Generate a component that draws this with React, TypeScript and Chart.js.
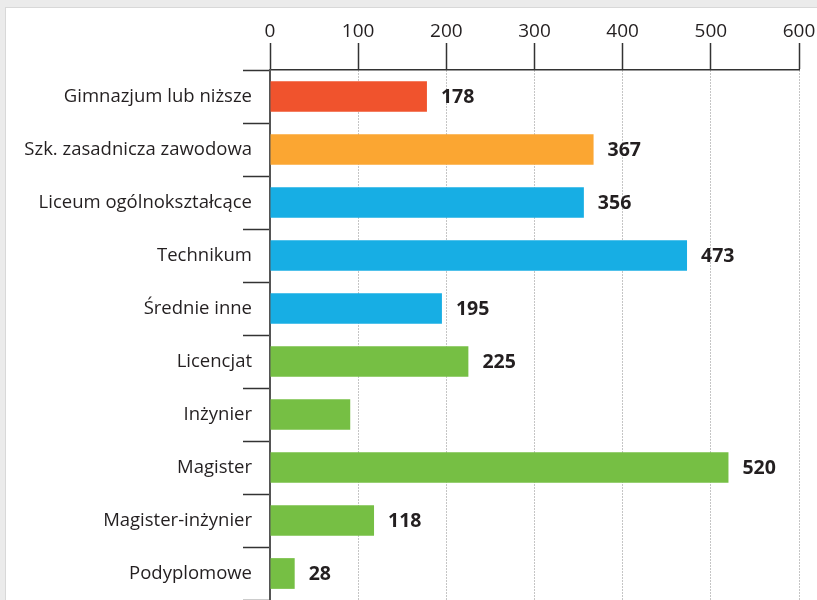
import { useEffect, useRef } from 'react';
import { Chart, registerables } from 'chart.js';

Chart.register(...registerables);

const categories = [
  'Gimnazjum lub niższe',
  'Szk. zasadnicza zawodowa',
  'Liceum ogólnokształcące',
  'Technikum',
  'Średnie inne',
  'Licencjat',
  'Inżynier',
  'Magister',
  'Magister-inżynier',
  'Podyplomowe',
];
const values = [178, 367, 356, 473, 195, 225, 91, 520, 118, 28];
const valueLabels = ['178', '367', '356', '473', '195', '225', '', '520', '118', '28'];
const barColors = [
  '#F0532D',
  '#FBA632',
  '#17AEE4',
  '#17AEE4',
  '#17AEE4',
  '#76BF44',
  '#76BF44',
  '#76BF44',
  '#76BF44',
  '#76BF44',
];
const xMin = 0;
const xMax = 600;
const xStep = 100;

const FONT = '"Open Sans", "DejaVu Sans", sans-serif';
const TEXT = '#231F20';

const valueLabelPlugin = {
  id: 'valueLabels',
  afterDatasetsDraw(chart: any) {
    const ctx = chart.ctx;
    const meta = chart.getDatasetMeta(0);
    ctx.save();
    ctx.font = `bold 19.5px ${FONT}`;
    ctx.fillStyle = TEXT;
    ctx.textBaseline = 'middle';
    ctx.textAlign = 'left';
    meta.data.forEach((bar: any, i: number) => {
      const label = valueLabels[i];
      if (!label) return;
      ctx.fillText(label, bar.x + 14, bar.y + 1);
    });
    ctx.restore();
  },
};

export default function App() {
  const canvasRef = useRef<HTMLCanvasElement | null>(null);

  useEffect(() => {
    document.body.style.margin = '0';
    const canvas = canvasRef.current;
    if (!canvas) return;
    const chart = new Chart(canvas, {
      type: 'bar',
      data: {
        labels: categories,
        datasets: [
          {
            data: values,
            backgroundColor: barColors,
            borderWidth: 0,
            barPercentage: 0.58,
            categoryPercentage: 1,
          },
        ],
      },
      options: {
        indexAxis: 'y',
        responsive: false,
        animation: false,
        devicePixelRatio: 1,
        layout: { padding: { left: 0, right: 18, top: 0, bottom: 0 } },
        plugins: {
          legend: { display: false },
          tooltip: { enabled: false },
        },
        scales: {
          x: {
            position: 'top',
            min: xMin,
            max: xMax,
            afterFit: (scale: any) => {
              scale.height = 70;
            },
            ticks: {
              stepSize: xStep,
              color: TEXT,
              font: { family: FONT, size: 19 },
              padding: 0,
            },
            grid: {
              color: '#8a8a8a',
              lineWidth: 1,
              drawTicks: true,
              tickLength: 27,
              tickColor: '#333333',
              tickWidth: 1.5,
            },
            border: {
              display: true,
              color: '#333333',
              width: 1.5,
              dash: [1, 2],
            },
          },
          y: {
            position: 'left',
            afterFit: (scale: any) => {
              scale.width = 270;
              scale.paddingTop = 0;
              scale.paddingBottom = 0;
            },
            ticks: {
              color: TEXT,
              font: { family: FONT, size: 18.5 },
              padding: -9,
            },
            grid: {
              drawOnChartArea: false,
              drawTicks: true,
              tickLength: 27,
              tickColor: '#333333',
              tickWidth: 1.5,
              offset: true,
            },
            border: {
              display: true,
              color: '#555555',
              width: 2,
            },
          },
        },
      },
      plugins: [valueLabelPlugin],
    } as any);
    return () => chart.destroy();
  }, []);

  return (
    <div
      style={{
        position: 'relative',
        width: 817,
        height: 600,
        background: '#EBEBEB',
        overflow: 'hidden',
      }}
    >
      <div
        style={{
          position: 'absolute',
          left: 5,
          top: 7,
          width: 830,
          height: 620,
          background: '#FFFFFF',
          border: '1px solid #D8D8D8',
        }}
      />
      <canvas
        ref={canvasRef}
        width={817}
        height={600}
        style={{ position: 'absolute', left: 0, top: 0, width: 817, height: 600 }}
      />
    </div>
  );
}
